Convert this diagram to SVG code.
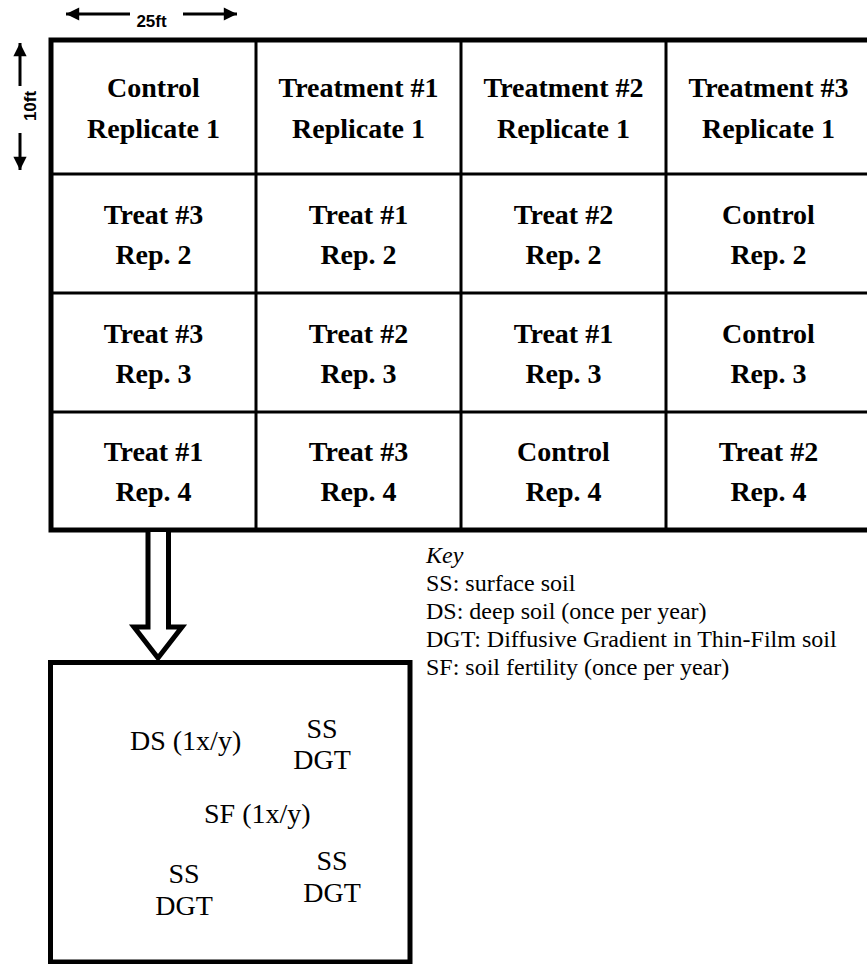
<svg xmlns="http://www.w3.org/2000/svg" width="867" height="964" viewBox="0 0 867 964">
<style>
.cell{font-family:"Liberation Serif","Times New Roman",serif;font-weight:bold;font-size:28px;fill:#000;text-anchor:middle}
.plot{font-family:"Liberation Serif","Times New Roman",serif;font-size:28px;fill:#000}
.key{font-family:"Liberation Serif","Times New Roman",serif;font-size:24px;fill:#000}
.dim{font-family:"Liberation Sans",Arial,sans-serif;font-weight:bold;font-size:17px;fill:#000;text-anchor:middle}
.thin{stroke:#000;stroke-width:3;fill:none}
.thick{stroke:#000;stroke-width:5;fill:none}
.dl{stroke:#000;stroke-width:3;fill:none}
</style>
<defs>
<marker id="ah" viewBox="0 0 10 10" refX="10" refY="5" markerWidth="5" markerHeight="4.4" markerUnits="strokeWidth" orient="auto">
<path d="M0,0 L10,5 L0,10 Z" fill="#000"/>
</marker>
</defs>
<rect width="867" height="964" fill="#fff"/>

<g id="dimensions">
<line class="dl" x1="130" y1="14" x2="66" y2="14" marker-end="url(#ah)"/>
<line class="dl" x1="183" y1="14" x2="237" y2="14" marker-end="url(#ah)"/>
<text class="dim" x="151.5" y="27">25ft</text>
<line class="dl" x1="20" y1="86" x2="20" y2="43" marker-end="url(#ah)"/>
<line class="dl" x1="20" y1="133" x2="20" y2="170" marker-end="url(#ah)"/>
<text class="dim" transform="translate(36,106) rotate(-90)" x="0" y="0">10ft</text>
</g>

<g id="grid">
<line class="thin" x1="256" y1="40" x2="256" y2="530"/>
<line class="thin" x1="461" y1="40" x2="461" y2="530"/>
<line class="thin" x1="666" y1="40" x2="666" y2="530"/>
<line class="thin" x1="51" y1="174" x2="871" y2="174"/>
<line class="thin" x1="51" y1="293" x2="871" y2="293"/>
<line class="thin" x1="51" y1="412" x2="871" y2="412"/>
<rect class="thick" x="51" y="40" width="820" height="490"/>
</g>

<g id="r1c1"><text class="cell" x="153.5" y="97">Control</text><text class="cell" x="153.5" y="138">Replicate 1</text></g>
<g id="r1c2"><text class="cell" x="358.5" y="97">Treatment #1</text><text class="cell" x="358.5" y="138">Replicate 1</text></g>
<g id="r1c3"><text class="cell" x="563.5" y="97">Treatment #2</text><text class="cell" x="563.5" y="138">Replicate 1</text></g>
<g id="r1c4"><text class="cell" x="768.5" y="97">Treatment #3</text><text class="cell" x="768.5" y="138">Replicate 1</text></g>

<g id="r2c1"><text class="cell" x="153.5" y="224">Treat #3</text><text class="cell" x="153.5" y="264">Rep. 2</text></g>
<g id="r2c2"><text class="cell" x="358.5" y="224">Treat #1</text><text class="cell" x="358.5" y="264">Rep. 2</text></g>
<g id="r2c3"><text class="cell" x="563.5" y="224">Treat #2</text><text class="cell" x="563.5" y="264">Rep. 2</text></g>
<g id="r2c4"><text class="cell" x="768.5" y="224">Control</text><text class="cell" x="768.5" y="264">Rep. 2</text></g>

<g id="r3c1"><text class="cell" x="153.5" y="343">Treat #3</text><text class="cell" x="153.5" y="383">Rep. 3</text></g>
<g id="r3c2"><text class="cell" x="358.5" y="343">Treat #2</text><text class="cell" x="358.5" y="383">Rep. 3</text></g>
<g id="r3c3"><text class="cell" x="563.5" y="343">Treat #1</text><text class="cell" x="563.5" y="383">Rep. 3</text></g>
<g id="r3c4"><text class="cell" x="768.5" y="343">Control</text><text class="cell" x="768.5" y="383">Rep. 3</text></g>

<g id="r4c1"><text class="cell" x="153.5" y="461">Treat #1</text><text class="cell" x="153.5" y="501">Rep. 4</text></g>
<g id="r4c2"><text class="cell" x="358.5" y="461">Treat #3</text><text class="cell" x="358.5" y="501">Rep. 4</text></g>
<g id="r4c3"><text class="cell" x="563.5" y="461">Control</text><text class="cell" x="563.5" y="501">Rep. 4</text></g>
<g id="r4c4"><text class="cell" x="768.5" y="461">Treat #2</text><text class="cell" x="768.5" y="501">Rep. 4</text></g>

<g id="connectors">
<path d="M148,532 L148,627 L134,627 L158,658 L182,627 L168.5,627 L168.5,532" fill="#fff" stroke="#000" stroke-width="5" stroke-linejoin="miter"/>
</g>

<g id="plot">
<rect class="thick" x="50.5" y="662.5" width="359.5" height="299.5" fill="#fff"/>
<text class="plot" x="130" y="750">DS (1x/y)</text>
<text class="plot" x="322" y="738" text-anchor="middle">SS</text>
<text class="plot" x="322" y="769" text-anchor="middle">DGT</text>
<text class="plot" x="204" y="823">SF (1x/y)</text>
<text class="plot" x="184" y="883" text-anchor="middle">SS</text>
<text class="plot" x="184" y="915" text-anchor="middle">DGT</text>
<text class="plot" x="332" y="870" text-anchor="middle">SS</text>
<text class="plot" x="332" y="902" text-anchor="middle">DGT</text>
</g>

<g id="legend">
<text class="key" x="426" y="563" font-style="italic">Key</text>
<text class="key" x="426" y="591">SS: surface soil</text>
<text class="key" x="426" y="619">DS: deep soil (once per year)</text>
<text class="key" x="426" y="647">DGT: Diffusive Gradient in Thin-Film soil</text>
<text class="key" x="426" y="675">SF: soil fertility (once per year)</text>
</g>
</svg>
